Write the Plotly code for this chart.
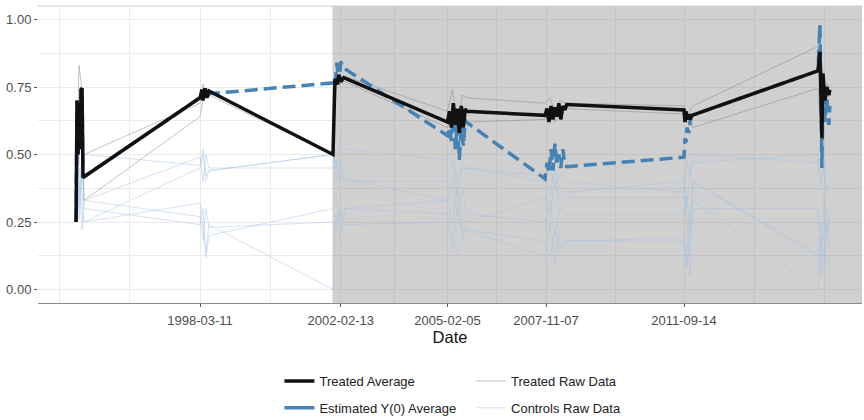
import plotly.graph_objects as go

# ---------------- data ----------------
# Treated average
TA_DATES = [
    "1994-09-24", "1994-10-04", "1994-10-14", "1994-10-24", "1994-11-04", "1994-11-14", "1994-11-24", "1994-12-04",
    "1998-03-11", "1998-03-31", "1998-04-10", "1998-05-01", "1998-05-21", "1998-06-10",
    "2001-11-26", "2001-12-16", "2002-01-05", "2002-01-25", "2002-02-14", "2002-03-16",
    "2005-02-05", "2005-02-25", "2005-03-17", "2005-04-06", "2005-04-27", "2005-05-17", "2005-06-06",
    "2005-06-26", "2005-07-17", "2005-08-06", "2005-08-16",
    "2007-10-28", "2007-11-17", "2007-12-07", "2007-12-28", "2008-01-17", "2008-02-06", "2008-02-26",
    "2008-03-17", "2008-04-06", "2008-04-27", "2008-05-17", "2008-06-06",
    "2011-09-14", "2011-09-24", "2011-10-04", "2011-10-14", "2011-11-04", "2011-11-14", "2011-12-04",
    "2015-06-11", "2015-07-01", "2015-07-21", "2015-08-01", "2015-08-21", "2015-09-10", "2015-09-30", "2015-10-10",
]
TA_VALUES = [
    0.25, 0.70, 0.50, 0.69, 0.52, 0.74, 0.745, 0.415,
    0.71, 0.74, 0.70, 0.745, 0.71, 0.735,
    0.50, 0.78, 0.76, 0.795, 0.77, 0.785,
    0.62, 0.66, 0.60, 0.69, 0.61, 0.67, 0.58, 0.68, 0.60, 0.67, 0.66,
    0.645, 0.67, 0.62, 0.68, 0.63, 0.675, 0.64, 0.69, 0.63, 0.68, 0.665, 0.685,
    0.665, 0.62, 0.66, 0.63, 0.65, 0.63, 0.645,
    0.81, 0.88, 0.56, 0.80, 0.70, 0.75, 0.72, 0.74,
]
# Estimated Y(0) average (same dates)
Y0_VALUES = [
    0.25, 0.70, 0.50, 0.69, 0.52, 0.74, 0.745, 0.415,
    0.71, 0.74, 0.70, 0.745, 0.71, 0.725,
    0.765, 0.75, 0.84, 0.76, 0.845, 0.82,
    0.57, 0.60, 0.55, 0.64, 0.52, 0.62, 0.48, 0.60, 0.53, 0.63, 0.62,
    0.41, 0.47, 0.43, 0.52, 0.44, 0.54, 0.46, 0.50, 0.45, 0.52, 0.46, 0.455,
    0.49, 0.56, 0.545, 0.60, 0.58, 0.62, 0.645,
    0.81, 0.98, 0.45, 0.75, 0.62, 0.71, 0.61, 0.68,
]

# Raw data (shared observation dates)
RAW_DATES = [
    "1994-09-24", "1994-10-24", "1994-11-24", "1994-12-14",
    "1998-03-11", "1998-04-10", "1998-05-11", "1998-06-10",
    "2001-11-26", "2001-12-26", "2002-02-04", "2002-03-27",
    "2005-02-05", "2005-03-27", "2005-05-17", "2005-07-07", "2005-08-16",
    "2007-10-28", "2007-12-17", "2008-02-06", "2008-03-27", "2008-05-27",
    "2011-09-14", "2011-10-14", "2011-11-14", "2011-12-14",
    "2015-06-11", "2015-07-11", "2015-08-11", "2015-09-10", "2015-10-10",
]
TREATED_RAW_1 = [0.30, 0.83, 0.74, 0.50, 0.69, 0.76, 0.72, 0.73, 0.50, 0.80, 0.78, 0.79,
                 0.66, 0.74, 0.62, 0.72, 0.71, 0.69, 0.71, 0.66, 0.70, 0.69,
                 0.68, 0.64, 0.66, 0.68, 0.90, 0.85, 0.74, 0.76, 0.75]
TREATED_RAW_2 = [0.25, 0.62, 0.70, 0.33, 0.64, 0.70, 0.74, 0.72, 0.50, 0.76, 0.77, 0.77,
                 0.60, 0.66, 0.56, 0.63, 0.62, 0.63, 0.66, 0.62, 0.67, 0.67,
                 0.65, 0.62, 0.63, 0.60, 0.745, 0.60, 0.70, 0.72, 0.71]
CONTROL_1 = [0.48, 0.30, 0.42, 0.50, 0.46, 0.52, 0.42, 0.44, 0.50, 0.45, 0.55, 0.52,
             0.48, 0.52, 0.40, 0.47, 0.45, 0.42, 0.45, 0.38, 0.43, 0.40,
             0.36, 0.48, 0.42, 0.47, 0.50, 0.38, 0.47, 0.44, 0.45]
CONTROL_2 = [0.25, 0.40, 0.22, 0.33, 0.49, 0.40, 0.50, 0.45, 0.45, 0.48, 0.40, 0.41,
             0.33, 0.42, 0.28, 0.38, 0.28, 0.25, 0.33, 0.20, 0.30, 0.28,
             0.28, 0.35, 0.22, 0.40, 0.13, 0.25, 0.18, 0.30, 0.22]
CONTROL_3 = [0.30, 0.50, 0.35, 0.25, 0.32, 0.22, 0.14, 0.24, 0.00, 0.28, 0.20, 0.30,
             0.33, 0.25, 0.38, 0.22, 0.22, 0.12, 0.25, 0.10, 0.22, 0.18,
             0.19, 0.10, 0.30, 0.33, 0.00, 0.20, 0.08, 0.25, 0.15]
CONTROL_4 = [0.50, 0.26, 0.45, 0.33, 0.27, 0.18, 0.30, 0.23, 0.25, 0.22, 0.30, 0.24,
             0.25, 0.15, 0.30, 0.20, 0.25, 0.34, 0.28, 0.40, 0.32, 0.34,
             0.34, 0.25, 0.05, 0.30, 0.30, 0.10, 0.35, 0.20, 0.28]
CONTROL_5 = [0.33, 0.45, 0.28, 0.25, 0.45, 0.50, 0.40, 0.44, 0.50, 0.40, 0.47, 0.40,
             0.40, 0.48, 0.35, 0.45, 0.45, 0.40, 0.35, 0.45, 0.37, 0.36,
             0.40, 0.30, 0.45, 0.50, 0.47, 0.40, 0.45, 0.35, 0.40]
CONTROL_6 = [0.45, 0.33, 0.50, 0.30, 0.24, 0.30, 0.12, 0.20, 0.30, 0.35, 0.25, 0.30,
             0.28, 0.20, 0.12, 0.18, 0.22, 0.18, 0.12, 0.22, 0.15, 0.18,
             0.18, 0.08, 0.20, 0.40, 0.12, 0.05, 0.15, 0.10, 0.12]
TREATED_RAW = [TREATED_RAW_1, TREATED_RAW_2]
CONTROLS = [CONTROL_1, CONTROL_2, CONTROL_3, CONTROL_4, CONTROL_5, CONTROL_6]

TREAT_START = "2001-11-21"
X_RANGE = ["1993-09-01", "2016-09-02"]
Y_RANGE = [-0.05, 1.05]
TICK_DATES = ["1998-03-11", "2002-02-13", "2005-02-05", "2007-11-07", "2011-09-14"]
MINOR_DATES = ["1994-04-06", "1996-03-24", "2000-02-26", "2003-08-11", "2006-06-22",
               "2009-10-11", "2013-08-31", "2015-08-18"]
Y_TICKS = [0, 0.25, 0.5, 0.75, 1.0]
Y_MINOR = [0.125, 0.375, 0.625, 0.875]

FONT = "Liberation Sans, Arial, Helvetica, sans-serif"
CTRL_COLOR = "rgba(165,192,228,0.45)"
TRAW_COLOR = "rgba(135,135,135,0.5)"
BLUE = "#4682B4"

fig = go.Figure()

# treatment-period shading (drawn above grid, below data)
fig.add_trace(go.Scatter(
    x=[TREAT_START, X_RANGE[1], X_RANGE[1], TREAT_START],
    y=[Y_RANGE[0], Y_RANGE[0], Y_RANGE[1], Y_RANGE[1]],
    mode="lines", fill="toself", fillcolor="rgba(120,120,120,0.35)",
    line=dict(width=0, color="rgba(0,0,0,0)"), showlegend=False, hoverinfo="skip"))

for i, vals in enumerate(CONTROLS):
    fig.add_trace(go.Scatter(
        x=RAW_DATES, y=vals, mode="lines", name="Controls Raw Data",
        line=dict(color=CTRL_COLOR, width=1), legend="legend2",
        legendgroup="ctrl", showlegend=(i == 0), legendrank=2, hoverinfo="skip"))

for i, vals in enumerate(TREATED_RAW):
    fig.add_trace(go.Scatter(
        x=RAW_DATES, y=vals, mode="lines", name="Treated Raw Data",
        line=dict(color=TRAW_COLOR, width=1), legend="legend2",
        legendgroup="traw", showlegend=(i == 0), legendrank=1, hoverinfo="skip"))

fig.add_trace(go.Scatter(
    x=TA_DATES, y=Y0_VALUES, mode="lines", name="Estimated Y(0) Average",
    line=dict(color=BLUE, width=3.5, dash="13px,6px"), showlegend=False,
    legendgroup="y0"))
# legend proxy for solid legend key
fig.add_trace(go.Scatter(
    x=[None], y=[None], mode="lines", name="Estimated Y(0) Average",
    line=dict(color=BLUE, width=3.5), legendgroup="y0", legendrank=2))

fig.add_trace(go.Scatter(
    x=TA_DATES, y=TA_VALUES, mode="lines", name="Treated Average",
    line=dict(color="#111111", width=3.5), legendgroup="ta", legendrank=1))

fig.add_shape(type="line", xref="paper", yref="paper", x0=0, x1=1, y0=1, y1=1,
              line=dict(color="#cfcfcf", width=1))

fig.update_layout(
    width=864, height=420,
    margin=dict(l=38, r=2, t=6, b=117, autoexpand=False),
    plot_bgcolor="white", paper_bgcolor="white",
    font=dict(family=FONT, size=13, color="#222222"),
    xaxis=dict(
        type="date", range=X_RANGE, automargin=False,
        tickmode="array", tickvals=TICK_DATES, ticktext=TICK_DATES,
        ticks="outside", ticklen=3, tickcolor="#555555", ticklabelstandoff=2,
        tickfont=dict(size=13, color="#4d4d4d"),
        showgrid=True, gridcolor="#ebebeb", gridwidth=1,
        minor=dict(tickmode="array", tickvals=MINOR_DATES, showgrid=True,
                   gridcolor="#ebebeb", gridwidth=0.6),
        showline=True, linecolor="#8a8a8a", linewidth=1,
        zeroline=False,
        title=dict(text="Date", font=dict(size=16.5, color="#111111"), standoff=0),
    ),
    yaxis=dict(
        range=Y_RANGE, automargin=False,
        tickmode="array", tickvals=Y_TICKS, tickformat=".2f",
        ticks="outside", ticklen=3, tickcolor="#555555",
        tickfont=dict(size=13, color="#4d4d4d"),
        showgrid=True, gridcolor="#ebebeb", gridwidth=1,
        minor=dict(tickmode="array", tickvals=Y_MINOR, showgrid=True,
                   gridcolor="#ebebeb", gridwidth=0.6),
        zeroline=False, showline=False,
    ),
    legend=dict(
        x=0.293, y=-0.212, xanchor="left", yanchor="top",
        orientation="v", font=dict(size=13, color="#222222"),
        tracegroupgap=7, bgcolor="rgba(0,0,0,0)",
    ),
    legend2=dict(
        x=0.5255, y=-0.212, xanchor="left", yanchor="top",
        orientation="v", font=dict(size=13, color="#222222"),
        tracegroupgap=7, bgcolor="rgba(0,0,0,0)",
    ),
)

fig.write_html(
    "out.html",
    config={"displayModeBar": False},
    post_script="document.body.style.margin='0';document.body.style.overflow='hidden';",
)
